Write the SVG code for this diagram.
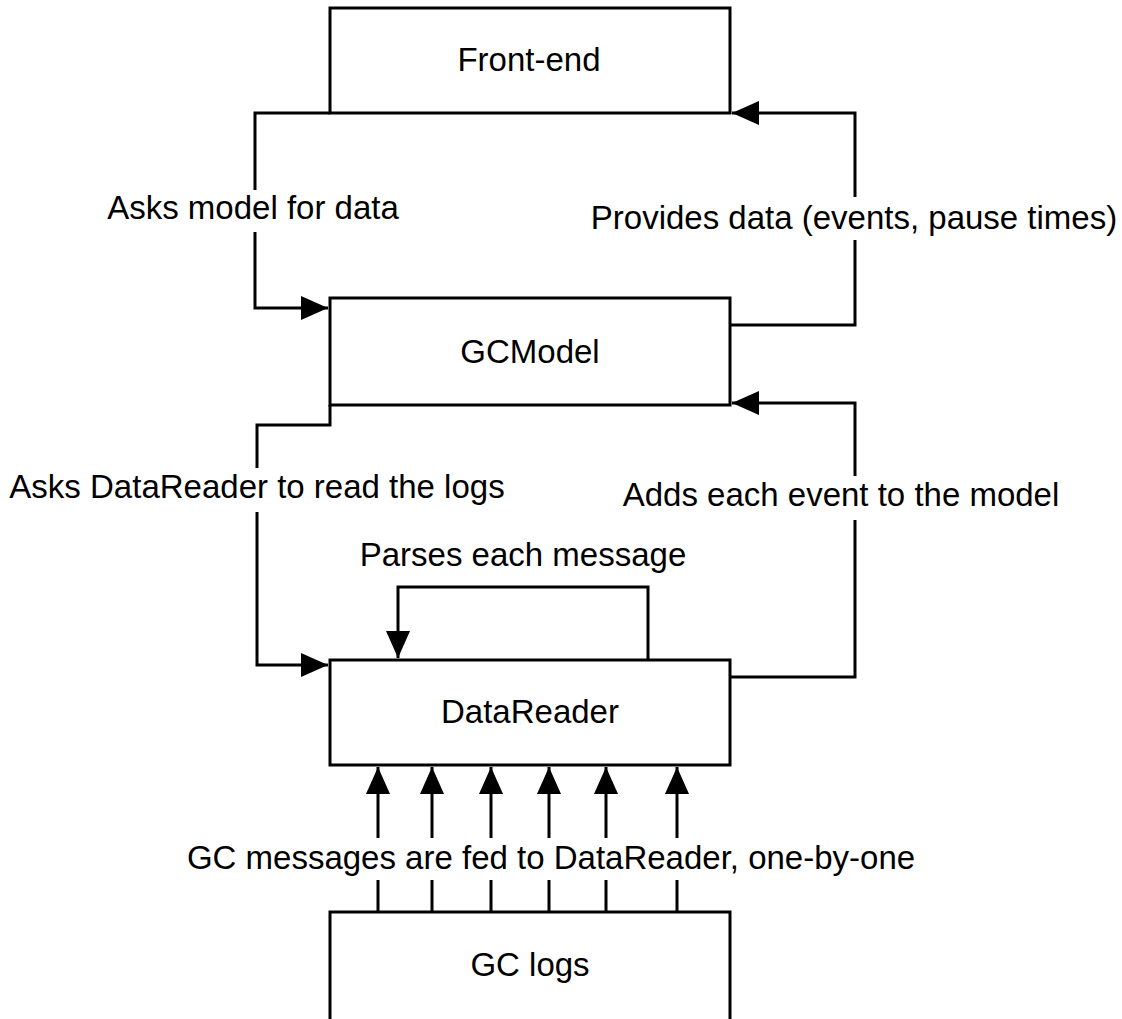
<svg xmlns="http://www.w3.org/2000/svg" width="1122" height="1019" viewBox="0 0 1122 1019">
<style>
.box{fill:#fff;stroke:#000;stroke-width:3}
.ln{fill:none;stroke:#000;stroke-width:3}
.t{font-family:"Liberation Sans",Arial,sans-serif;font-size:33px;fill:#000;text-anchor:middle}
</style>
<defs>
<marker id="ah" markerWidth="27" markerHeight="24" viewBox="0 0 27 24" refX="27" refY="12" orient="auto" markerUnits="userSpaceOnUse">
<path d="M0,0 L27,12 L0,24 Z" fill="#000"/>
</marker>
</defs>
<rect width="1122" height="1019" fill="#fff"/>
<g id="connectors">
<path class="ln" d="M330,113 H255 V190 M255,232 V308 H328" marker-end="url(#ah)"/>
<path class="ln" d="M730,325 H855 V240 M855,197 V113 H732" marker-end="url(#ah)"/>
<path class="ln" d="M330,405 V425 H257 V468 M257,512 V665 H328" marker-end="url(#ah)"/>
<path class="ln" d="M730,677 H855 V520 M855,476 V403 H732" marker-end="url(#ah)"/>
<path class="ln" d="M648,660 V587 H398 V658" marker-end="url(#ah)"/>
<path class="ln" d="M378,912 V880 M378,838 V767" marker-end="url(#ah)"/>
<path class="ln" d="M432,912 V880 M432,838 V767" marker-end="url(#ah)"/>
<path class="ln" d="M491,912 V880 M491,838 V767" marker-end="url(#ah)"/>
<path class="ln" d="M549,912 V880 M549,838 V767" marker-end="url(#ah)"/>
<path class="ln" d="M606,912 V880 M606,838 V767" marker-end="url(#ah)"/>
<path class="ln" d="M677,912 V880 M677,838 V767" marker-end="url(#ah)"/>
<text class="t" x="253" y="219">Asks model for data</text>
<text class="t" x="854" y="229">Provides data (events, pause times)</text>
<text class="t" x="257" y="498">Asks DataReader to read the logs</text>
<text class="t" x="841" y="506">Adds each event to the model</text>
<text class="t" x="523" y="566">Parses each message</text>
<text class="t" x="551" y="869">GC messages are fed to DataReader, one-by-one</text>
</g>
<g id="front-end"><rect class="box" x="330" y="8" width="400" height="105"/><text class="t" x="529" y="71">Front-end</text></g>
<g id="gcmodel"><rect class="box" x="330" y="298" width="400" height="107"/><text class="t" x="530" y="363">GCModel</text></g>
<g id="datareader"><rect class="box" x="330" y="660" width="400" height="105"/><text class="t" x="530" y="723">DataReader</text></g>
<g id="gclogs"><rect class="box" x="330" y="912" width="400" height="120"/><text class="t" x="530" y="976">GC logs</text></g>
</svg>
